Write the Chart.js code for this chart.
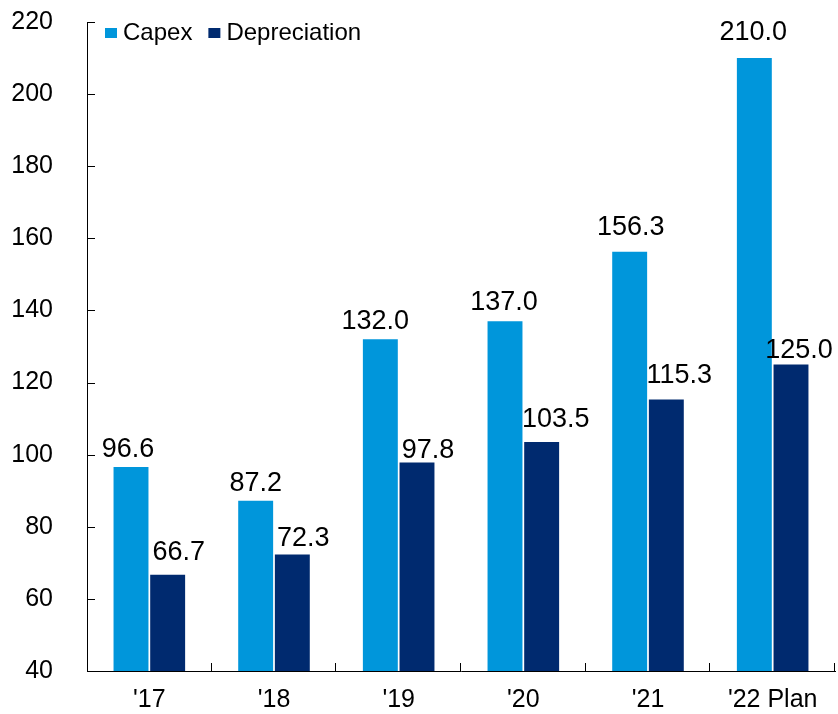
<!DOCTYPE html>
<html>
<head>
<meta charset="utf-8">
<script src="https://cdn.jsdelivr.net/npm/chart.js@4/dist/chart.umd.min.js"></script>
<style>
  html, body { margin: 0; padding: 0; background: #ffffff; }
  #wrap { width: 838px; height: 714px; }
</style>
</head>
<body>
<div id="wrap"><canvas id="chart" width="838" height="714"></canvas></div>
<script>
const categories = ["'17", "'18", "'19", "'20", "'21", "'22 Plan"];
const capex = [96.6, 87.2, 132.0, 137.0, 156.3, 210.0];
const depreciation = [66.7, 72.3, 97.8, 103.5, 115.3, 125.0];
const seriesNames = ["Capex", "Depreciation"];
const yTicks = [40, 60, 80, 100, 120, 140, 160, 180, 200, 220];

const FONT = "'Liberation Sans', Arial, sans-serif";
const COLORS = ["#0096DB", "#002A6F"];

// Hand-placed label nudges (px): [dx, gap above bar] per bar, per series
const labelNudge = [
  [[-3, 10], [0, 10], [-5, 10], [-1, 11], [1, 17], [-1, 18]],
  [[11, 15], [11, 9], [11, 5], [14, 15], [13, 17], [8, 7]]
];

// Short tick marks pointing into the plot area, on both axes
const innerTicks = {
  id: 'innerTicks',
  afterDraw(chart) {
    const { ctx, chartArea, scales } = chart;
    ctx.save();
    ctx.strokeStyle = '#000000';
    ctx.lineWidth = 1;
    ctx.beginPath();
    scales.y.ticks.forEach((t) => {
      const y = Math.round(scales.y.getPixelForValue(t.value)) + 0.5;
      ctx.moveTo(chartArea.left, y);
      ctx.lineTo(chartArea.left + 8, y);
    });
    const n = chart.data.labels.length;
    const w = (chartArea.right - chartArea.left) / n;
    for (let i = 1; i <= n; i++) {
      const x = Math.round(chartArea.left + w * i) - 0.5;
      ctx.moveTo(x, chartArea.bottom);
      ctx.lineTo(x, chartArea.bottom - 8);
    }
    ctx.stroke();
    ctx.restore();
  }
};

// Value labels above each bar
const valueLabels = {
  id: 'valueLabels',
  afterDatasetsDraw(chart) {
    const { ctx } = chart;
    ctx.save();
    ctx.font = '27px ' + FONT;
    ctx.fillStyle = '#000000';
    ctx.textAlign = 'center';
    ctx.textBaseline = 'alphabetic';
    chart.data.datasets.forEach((ds, di) => {
      chart.getDatasetMeta(di).data.forEach((bar, i) => {
        const [dx, gap] = labelNudge[di][i];
        ctx.fillText(ds.data[i].toFixed(1), bar.x + dx, bar.y - gap);
      });
    });
    ctx.restore();
  }
};

// Legend drawn inside the top-left corner of the plot
const insideLegend = {
  id: 'insideLegend',
  afterDraw(chart) {
    const { ctx, chartArea } = chart;
    ctx.save();
    ctx.font = '24px ' + FONT;
    ctx.textBaseline = 'alphabetic';
    ctx.textAlign = 'left';
    let x = chartArea.left + 18;
    const top = chartArea.top + 6;
    chart.data.datasets.forEach((ds) => {
      ctx.fillStyle = ds.backgroundColor;
      ctx.fillRect(x, top, 12, 10);
      x += 18;
      ctx.fillStyle = '#000000';
      ctx.fillText(ds.label, x, top + 11.5);
      x += ctx.measureText(ds.label).width + 16;
    });
    ctx.restore();
  }
};

new Chart(document.getElementById('chart'), {
  type: 'bar',
  data: {
    labels: categories,
    datasets: [
      { label: seriesNames[0], data: capex, backgroundColor: COLORS[0], borderWidth: 0,
        categoryPercentage: 0.588, barPercentage: 0.953 },
      { label: seriesNames[1], data: depreciation, backgroundColor: COLORS[1], borderWidth: 0,
        categoryPercentage: 0.588, barPercentage: 0.953 }
    ]
  },
  options: {
    responsive: false,
    animation: false,
    devicePixelRatio: 1,
    layout: { padding: { left: 0, right: 3, top: 22, bottom: 0 } },
    plugins: {
      legend: { display: false },
      tooltip: { enabled: false }
    },
    scales: {
      x: {
        grid: { display: false, drawTicks: false },
        border: { display: true, color: '#000000', width: 1 },
        ticks: { color: '#000000', font: { family: FONT, size: 25 }, padding: 14, maxRotation: 0 },
        afterFit(scale) { scale.height = 43; }
      },
      y: {
        min: 40,
        max: 220,
        grid: { display: false, drawTicks: false },
        border: { display: true, color: '#000000', width: 1 },
        afterBuildTicks(scale) { scale.ticks = yTicks.map((v) => ({ value: v })); },
        ticks: { color: '#000000', font: { family: FONT, size: 25 }, padding: 34 },
        afterFit(scale) {
          scale.width = 87;
          scale.paddingTop = 0;
          scale.paddingBottom = 0;
        }
      }
    }
  },
  plugins: [innerTicks, valueLabels, insideLegend]
});
</script>
</body>
</html>
